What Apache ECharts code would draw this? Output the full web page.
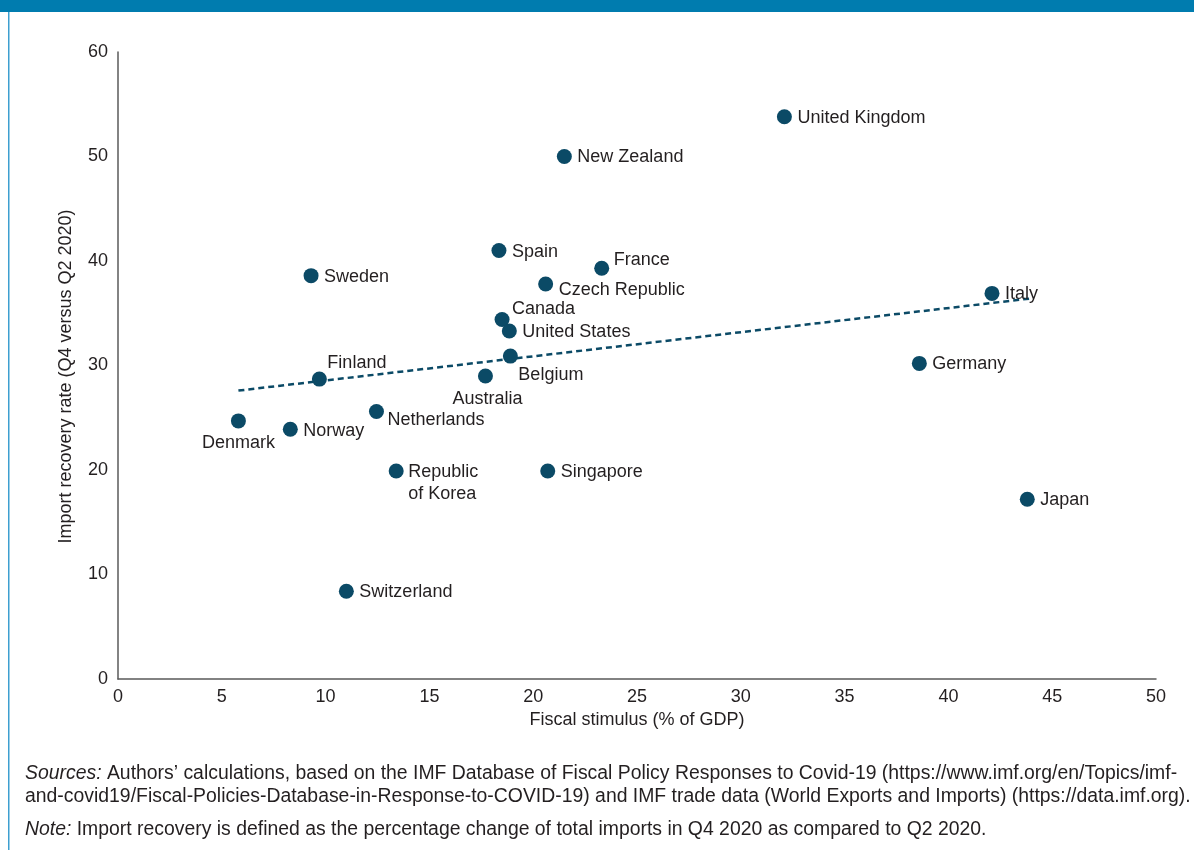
<!DOCTYPE html>
<html>
<head>
<meta charset="utf-8">
<script src="https://cdn.jsdelivr.net/npm/echarts@6/dist/echarts.min.js"></script>
<style>
  html, body { margin: 0; padding: 0; background: #fff; }
  #chart { width: 1194px; height: 850px; }
</style>
</head>
<body>
<div id="chart"></div>
<script>
// Fiscal stimulus (% of GDP) vs import recovery rate (Q4 vs Q2 2020)
const countries = ['United Kingdom', 'New Zealand', 'Spain', 'France', 'Sweden', 'Czech Republic', 'Italy',
  'Canada', 'United States', 'Belgium', 'Germany', 'Finland', 'Australia', 'Netherlands', 'Denmark',
  'Norway', 'Republic\nof Korea', 'Singapore', 'Japan', 'Switzerland'];
const fiscalStimulus = [32.1, 21.5, 18.35, 23.3, 9.3, 20.6, 42.1, 18.5, 18.85, 18.9, 38.6, 9.7, 17.7, 12.45,
  5.8, 8.3, 13.4, 20.7, 43.8, 11.0];
const importRecovery = [53.8, 50.0, 41.0, 39.3, 38.6, 37.8, 36.9, 34.4, 33.3, 30.9, 30.2, 28.7, 29.0, 25.6,
  24.7, 23.9, 19.9, 19.9, 17.2, 8.4];
// Endpoints of the fitted trend line
const trendX = [5.8, 43.9];
const trendY = [27.6, 36.4];
const xTicks = { min: 0, max: 50, interval: 5 };
const yTicks = { min: 0, max: 60, interval: 10 };

// Label placement per country: offset from point centre and alignment
const labelPlacement = {
  'France': { dx: 12, dy: -8, align: 'left' },
  'Czech Republic': { dx: 13, dy: 6, align: 'left' },
  'Canada': { dx: 10, dy: -10, align: 'left' },
  'Belgium': { dx: 8, dy: 19, align: 'left' },
  'Finland': { dx: 8, dy: -16, align: 'left' },
  'Australia': { dx: 2, dy: 23, align: 'center' },
  'Netherlands': { dx: 11, dy: 9, align: 'left' },
  'Denmark': { dx: 0, dy: 22, align: 'center' },
  'Republic\nof Korea': { dx: 12, dy: 12, align: 'left' },
  'Norway': { dx: 13, dy: 2, align: 'left' }
};

const markColor = '#0b4a66';
const textColor = '#231f20';
const fontFamily = '"Liberation Sans", Arial, Helvetica, sans-serif';
const fontSize = 18;
const noteSize = 19.4;

const points = countries.map((name, i) => {
  const p = labelPlacement[name] || { dx: 13, dy: 1, align: 'left' };
  return {
    name: name,
    value: [fiscalStimulus[i], importRecovery[i]],
    label: {
      show: true,
      position: 'inside',
      offset: [p.dx, p.dy],
      align: p.align,
      verticalAlign: 'middle',
      formatter: '{b}',
      color: textColor,
      fontSize: fontSize,
      lineHeight: 22,
      fontFamily: fontFamily
    }
  };
});

const chart = echarts.init(document.getElementById('chart'), null, { renderer: 'canvas' });

chart.setOption({
  animation: false,
  backgroundColor: '#ffffff',
  grid: { left: 118, right: 38, top: 52, bottom: 171 },
  xAxis: {
    type: 'value',
    min: xTicks.min, max: xTicks.max, interval: xTicks.interval,
    name: 'Fiscal stimulus (% of GDP)',
    nameLocation: 'middle',
    nameGap: 29,
    nameTextStyle: { color: textColor, fontSize: fontSize, fontFamily: fontFamily },
    axisLine: { lineStyle: { color: '#5a5a5a', width: 1.5 } },
    axisTick: { show: false },
    splitLine: { show: false },
    axisLabel: { color: textColor, fontSize: fontSize, margin: 9, fontFamily: fontFamily }
  },
  yAxis: {
    type: 'value',
    min: yTicks.min, max: yTicks.max, interval: yTicks.interval,
    name: 'Import recovery rate (Q4 versus Q2 2020)',
    nameLocation: 'middle',
    nameGap: 43,
    nameRotate: 90,
    nameTextStyle: { color: textColor, fontSize: fontSize, fontFamily: fontFamily, padding: [0, 22, 0, 0] },
    axisLine: { show: true, lineStyle: { color: '#5a5a5a', width: 1.5 } },
    axisTick: { show: false },
    splitLine: { show: false },
    axisLabel: { color: textColor, fontSize: fontSize, margin: 10, fontFamily: fontFamily }
  },
  series: [
    {
      type: 'line',
      data: trendX.map((x, i) => [x, trendY[i]]),
      symbol: 'none',
      lineStyle: { color: markColor, width: 2.5, type: [6, 4] },
      z: 1,
      silent: true
    },
    {
      type: 'scatter',
      data: points,
      symbolSize: 15,
      itemStyle: { color: markColor, opacity: 1 },
      z: 2
    }
  ],
  graphic: [
    { type: 'rect', left: 0, top: 0, shape: { width: 1194, height: 12 }, style: { fill: '#007caf' } },
    { type: 'rect', left: 8, top: 12, shape: { width: 1.5, height: 838 }, style: { fill: '#3d9fd0' } },
    {
      type: 'text', left: 25, top: 762,
      style: {
        text: '{i|Sources:} Authors\u2019 calculations, based on the IMF Database of Fiscal Policy Responses to Covid-19 (https://www.imf.org/en/Topics/imf-\nand-covid19/Fiscal-Policies-Database-in-Response-to-COVID-19) and IMF trade data (World Exports and Imports) (https://data.imf.org).',
        font: noteSize + 'px ' + fontFamily,
        fill: textColor,
        lineHeight: 23,
        rich: {
          i: { fontStyle: 'italic', fontSize: noteSize, fontFamily: fontFamily, fill: textColor }
        }
      }
    },
    {
      type: 'text', left: 25, top: 818,
      style: {
        text: '{i|Note:} Import recovery is defined as the percentage change of total imports in Q4 2020 as compared to Q2 2020.',
        font: noteSize + 'px ' + fontFamily,
        fill: textColor,
        lineHeight: 23,
        rich: {
          i: { fontStyle: 'italic', fontSize: noteSize, fontFamily: fontFamily, fill: textColor }
        }
      }
    }
  ]
});
</script>
</body>
</html>
